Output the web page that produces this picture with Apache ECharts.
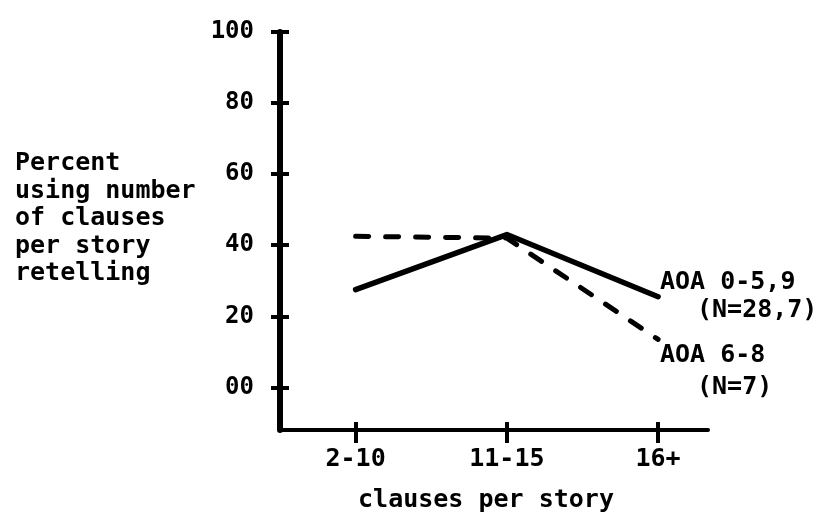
<!DOCTYPE html>
<html>
<head>
<meta charset="utf-8">
<script src="https://cdn.jsdelivr.net/npm/echarts@6/dist/echarts.min.js"></script>
<style>
  html, body { margin: 0; background: #fff; }
  #chart { width: 817px; height: 520px; }
</style>
</head>
<body>
<div id="chart"></div>
<script>
// data
const categories = ['2-10', '11-15', '16+'];
const aoa059 = [27.5, 43, 25.5];   // AOA 0-5,9 (N=28,7), solid
const aoa68 = [42.5, 42, 13.5];    // AOA 6-8 (N=7), dashed
const yTicks = [0, 20, 40, 60, 80, 100];
const yTickLabels = ['00', '20', '40', '60', '80', '100'];
const xTicks = [0, 1, 2];

const font = 'DejaVu Sans Mono';
const ink = '#000';
const txt = 'bold 25px ' + font;

function toPoints(values) {
  return values.map((v, i) => [i, v]);
}

let myChart = echarts.init(document.getElementById('chart'));

const yBase = {
  type: 'value',
  min: -12,
  max: 100,
  splitLine: { show: false }
};
const xBase = {
  type: 'value',
  min: -0.5,
  max: 2.33,
  splitLine: { show: false }
};

var option = {
  backgroundColor: '#fff',
  animation: false,
  grid: { left: 280, right: 109, top: 32, bottom: 90, outerBoundsMode: 'none' },
  xAxis: [
    Object.assign({}, xBase, {
      axisLine: { show: true, onZero: false, lineStyle: { color: ink, width: 4 } },
      axisTick: { show: true, customValues: xTicks, length: 13, lineStyle: { color: ink, width: 4 } },
      axisLabel: {
        customValues: xTicks,
        formatter: v => categories[Math.round(v)],
        margin: 17,
        color: ink,
        fontFamily: font,
        fontWeight: 'bold',
        fontSize: 25
      }
    }),
    Object.assign({}, xBase, {
      position: 'bottom',
      axisLine: { show: false, onZero: false },
      axisTick: { show: true, inside: true, customValues: xTicks, length: 8, lineStyle: { color: ink, width: 4 } },
      axisLabel: { show: false }
    })
  ],
  yAxis: [
    Object.assign({}, yBase, {
      axisLine: { show: true, onZero: false, lineStyle: { color: ink, width: 6 } },
      axisTick: { show: true, customValues: yTicks, length: 9, lineStyle: { color: ink, width: 4 } },
      axisLabel: {
        customValues: yTicks,
        formatter: v => yTickLabels[yTicks.indexOf(v)],
        margin: 26,
        padding: [0, 0, 12, 0],
        color: ink,
        fontFamily: font,
        fontWeight: 'bold',
        fontSize: 24
      }
    }),
    Object.assign({}, yBase, {
      position: 'left',
      axisLine: { show: false, onZero: false },
      axisTick: { show: true, inside: true, customValues: yTicks, length: 9, lineStyle: { color: ink, width: 4 } },
      axisLabel: { show: false }
    })
  ],
  series: [
    {
      name: 'AOA 0-5,9',
      type: 'line',
      data: toPoints(aoa059),
      showSymbol: false,
      lineStyle: { color: ink, width: 5.5, cap: 'round', join: 'round' }
    },
    {
      name: 'AOA 6-8',
      type: 'line',
      data: toPoints(aoa68),
      showSymbol: false,
      lineStyle: { color: ink, width: 5, type: [13, 17], cap: 'round', join: 'round' }
    }
  ],
  graphic: [
    {
      type: 'text', left: 15, top: 150,
      style: {
        text: 'Percent\nusing number\nof clauses\nper story\nretelling',
        font: txt, lineHeight: 27.5, fill: ink
      }
    },
    {
      type: 'text', x: 486, y: 500,
      style: { text: 'clauses per story', font: txt, fill: ink, align: 'center', verticalAlign: 'middle' }
    },
    {
      type: 'text', x: 660, y: 282,
      style: { text: 'AOA 0-5,9', font: txt, fill: ink, verticalAlign: 'middle' }
    },
    {
      type: 'text', x: 697, y: 310,
      style: { text: '(N=28,7)', font: txt, fill: ink, verticalAlign: 'middle' }
    },
    {
      type: 'text', x: 660, y: 355,
      style: { text: 'AOA 6-8', font: txt, fill: ink, verticalAlign: 'middle' }
    },
    {
      type: 'text', x: 697, y: 387,
      style: { text: '(N=7)', font: txt, fill: ink, verticalAlign: 'middle' }
    }
  ]
};
myChart.setOption(option);
</script>
</body>
</html>
